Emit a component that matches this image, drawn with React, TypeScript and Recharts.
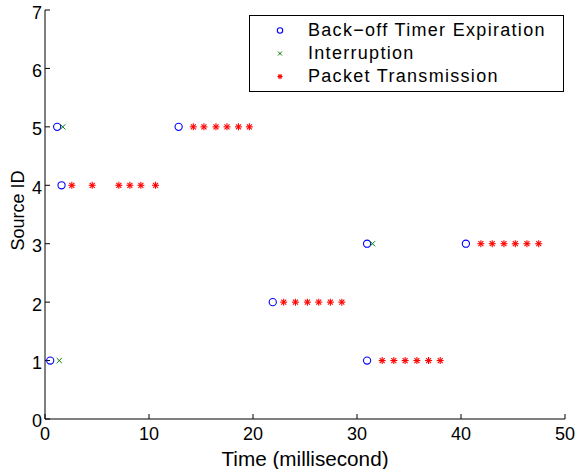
import React from "react";
import {
  ScatterChart,
  Scatter,
  XAxis,
  YAxis,
  Legend,
} from "recharts";

// Back-off timer expirations (time in ms, source id)
const backoffTimes = [0.5, 1.17, 1.59, 12.85, 21.9, 30.97, 30.97, 40.47];
const backoffSources = [1, 5, 4, 5, 2, 1, 3, 3];

// Interruptions
const interruptTimes = [1.37, 1.71, 31.49];
const interruptSources = [1, 5, 3];

// Packet transmissions
const packetTimes = [
  14.26, 15.28, 16.44, 17.5, 18.6, 19.65,
  2.58, 4.54, 7.1, 8.16, 9.22, 10.63,
  41.91, 43.0, 44.13, 45.22, 46.34, 47.47,
  22.95, 24.08, 25.23, 26.32, 27.44, 28.54,
  32.42, 33.54, 34.63, 35.76, 36.88, 38.0,
];
const packetSources = [
  5, 5, 5, 5, 5, 5,
  4, 4, 4, 4, 4, 4,
  3, 3, 3, 3, 3, 3,
  2, 2, 2, 2, 2, 2,
  1, 1, 1, 1, 1, 1,
];

const xTicks = [0, 10, 20, 30, 40, 50];
const yTicks = [0, 1, 2, 3, 4, 5, 6, 7];

const seriesNames = ["Back\u2212off Timer Expiration", "Interruption", "Packet Transmission"];

const FONT = '"Liberation Sans", Arial, Helvetica, sans-serif';
const BLUE = "#0000ff";
const GREEN = "#008000";
const RED = "#ff0000";

const zip = (xs: number[], ys: number[]) => xs.map((t, i) => ({ t, id: ys[i] }));
const backoffData = zip(backoffTimes, backoffSources);
const interruptData = zip(interruptTimes, interruptSources);
const packetData = zip(packetTimes, packetSources);

// marker shapes, k scales them down for the legend
const Circle = ({ cx, cy, k = 1 }: any) => (
  <circle cx={cx} cy={cy} r={3.6 * k} fill="none" stroke={BLUE} strokeWidth={1.1} />
);
const Cross = ({ cx, cy, k = 1 }: any) => {
  const s = 2.6 * k;
  return (
    <g stroke={GREEN} strokeWidth={1}>
      <line x1={cx - s} y1={cy - s} x2={cx + s} y2={cy + s} />
      <line x1={cx - s} y1={cy + s} x2={cx + s} y2={cy - s} />
    </g>
  );
};
const Star = ({ cx, cy, k = 1 }: any) => {
  const s = 3.5 * k;
  const d = 2.5 * k;
  return (
    <g stroke={RED} strokeWidth={1.1}>
      <line x1={cx - s} y1={cy} x2={cx + s} y2={cy} />
      <line x1={cx} y1={cy - s} x2={cx} y2={cy + s} />
      <line x1={cx - d} y1={cy - d} x2={cx + d} y2={cy + d} />
      <line x1={cx - d} y1={cy + d} x2={cx + d} y2={cy - d} />
    </g>
  );
};

const markers = [Circle, Cross, Star];

const LegendBox = () => (
  <div
    style={{
      width: 313,
      height: 75,
      border: "1px solid #000",
      background: "#fff",
      fontFamily: FONT,
      fontSize: 18,
      letterSpacing: 1.3,
      color: "#000",
      position: "relative",
    }}
  >
    {seriesNames.map((name, i) => {
      const M = markers[i];
      return (
        <div
          key={name}
          style={{ position: "absolute", left: 0, top: 3 + i * 23, height: 23, display: "flex", alignItems: "center" }}
        >
          <svg width={58} height={23} style={{ display: "block" }}>
            <M cx={30} cy={11.5} k={0.75} />
          </svg>
          <span style={{ whiteSpace: "nowrap", lineHeight: "23px" }}>{name}</span>
        </div>
      );
    })}
  </div>
);

const noTick = () => <g />;

export default function App() {
  return (
    <div style={{ position: "absolute", left: 0, top: 0, width: 576, height: 469, background: "#fff" }}>
      <ScatterChart
        width={576}
        height={469}
        margin={{ top: 10, right: 11, bottom: 0, left: 0 }}
        style={{ fontFamily: FONT }}
      >
        <XAxis
          xAxisId="b"
          type="number"
          dataKey="t"
          domain={[0, 50]}
          ticks={xTicks}
          allowDataOverflow
          height={50}
          stroke="#000"
          tickSize={-5}
          tickMargin={13}
          tick={{ fill: "#000", fontSize: 18, fontFamily: FONT }}
          label={{ value: "Time (millisecond)", position: "insideBottom", offset: 3, fill: "#000", fontSize: 20.7, fontFamily: FONT }}
        />
        <XAxis
          xAxisId="t"
          orientation="top"
          type="number"
          dataKey="t"
          domain={[0, 50]}
          ticks={xTicks}
          allowDataOverflow
          height={0}
          stroke="#000"
          tickSize={-5}
          tick={noTick}
        />
        <YAxis
          yAxisId="l"
          type="number"
          dataKey="id"
          domain={[0, 7]}
          ticks={yTicks}
          allowDataOverflow
          width={45}
          stroke="#000"
          tickSize={-5}
          tickMargin={8}
          tick={{ fill: "#000", fontSize: 18, fontFamily: FONT, dy: 2 }}
          label={{ value: "Source ID", angle: -90, position: "center", dx: -5, dy: -4, fill: "#000", fontSize: 18, fontFamily: FONT }}
        />
        <YAxis
          yAxisId="r"
          orientation="right"
          type="number"
          dataKey="id"
          domain={[0, 7]}
          ticks={yTicks}
          allowDataOverflow
          width={0}
          stroke="#000"
          tickSize={-5}
          tick={noTick}
        />
        <Legend
          layout="vertical"
          align="center"
          verticalAlign="middle"
          content={<LegendBox />}
          wrapperStyle={{ position: "absolute", top: 15, left: 249, width: 315, height: 77 }}
        />
        <Scatter name={seriesNames[0]} data={backoffData} xAxisId="b" yAxisId="l" shape={<Circle />} isAnimationActive={false} />
        <Scatter name={seriesNames[1]} data={interruptData} xAxisId="b" yAxisId="l" shape={<Cross />} isAnimationActive={false} />
        <Scatter name={seriesNames[2]} data={packetData} xAxisId="b" yAxisId="l" shape={<Star />} isAnimationActive={false} />
      </ScatterChart>
    </div>
  );
}
